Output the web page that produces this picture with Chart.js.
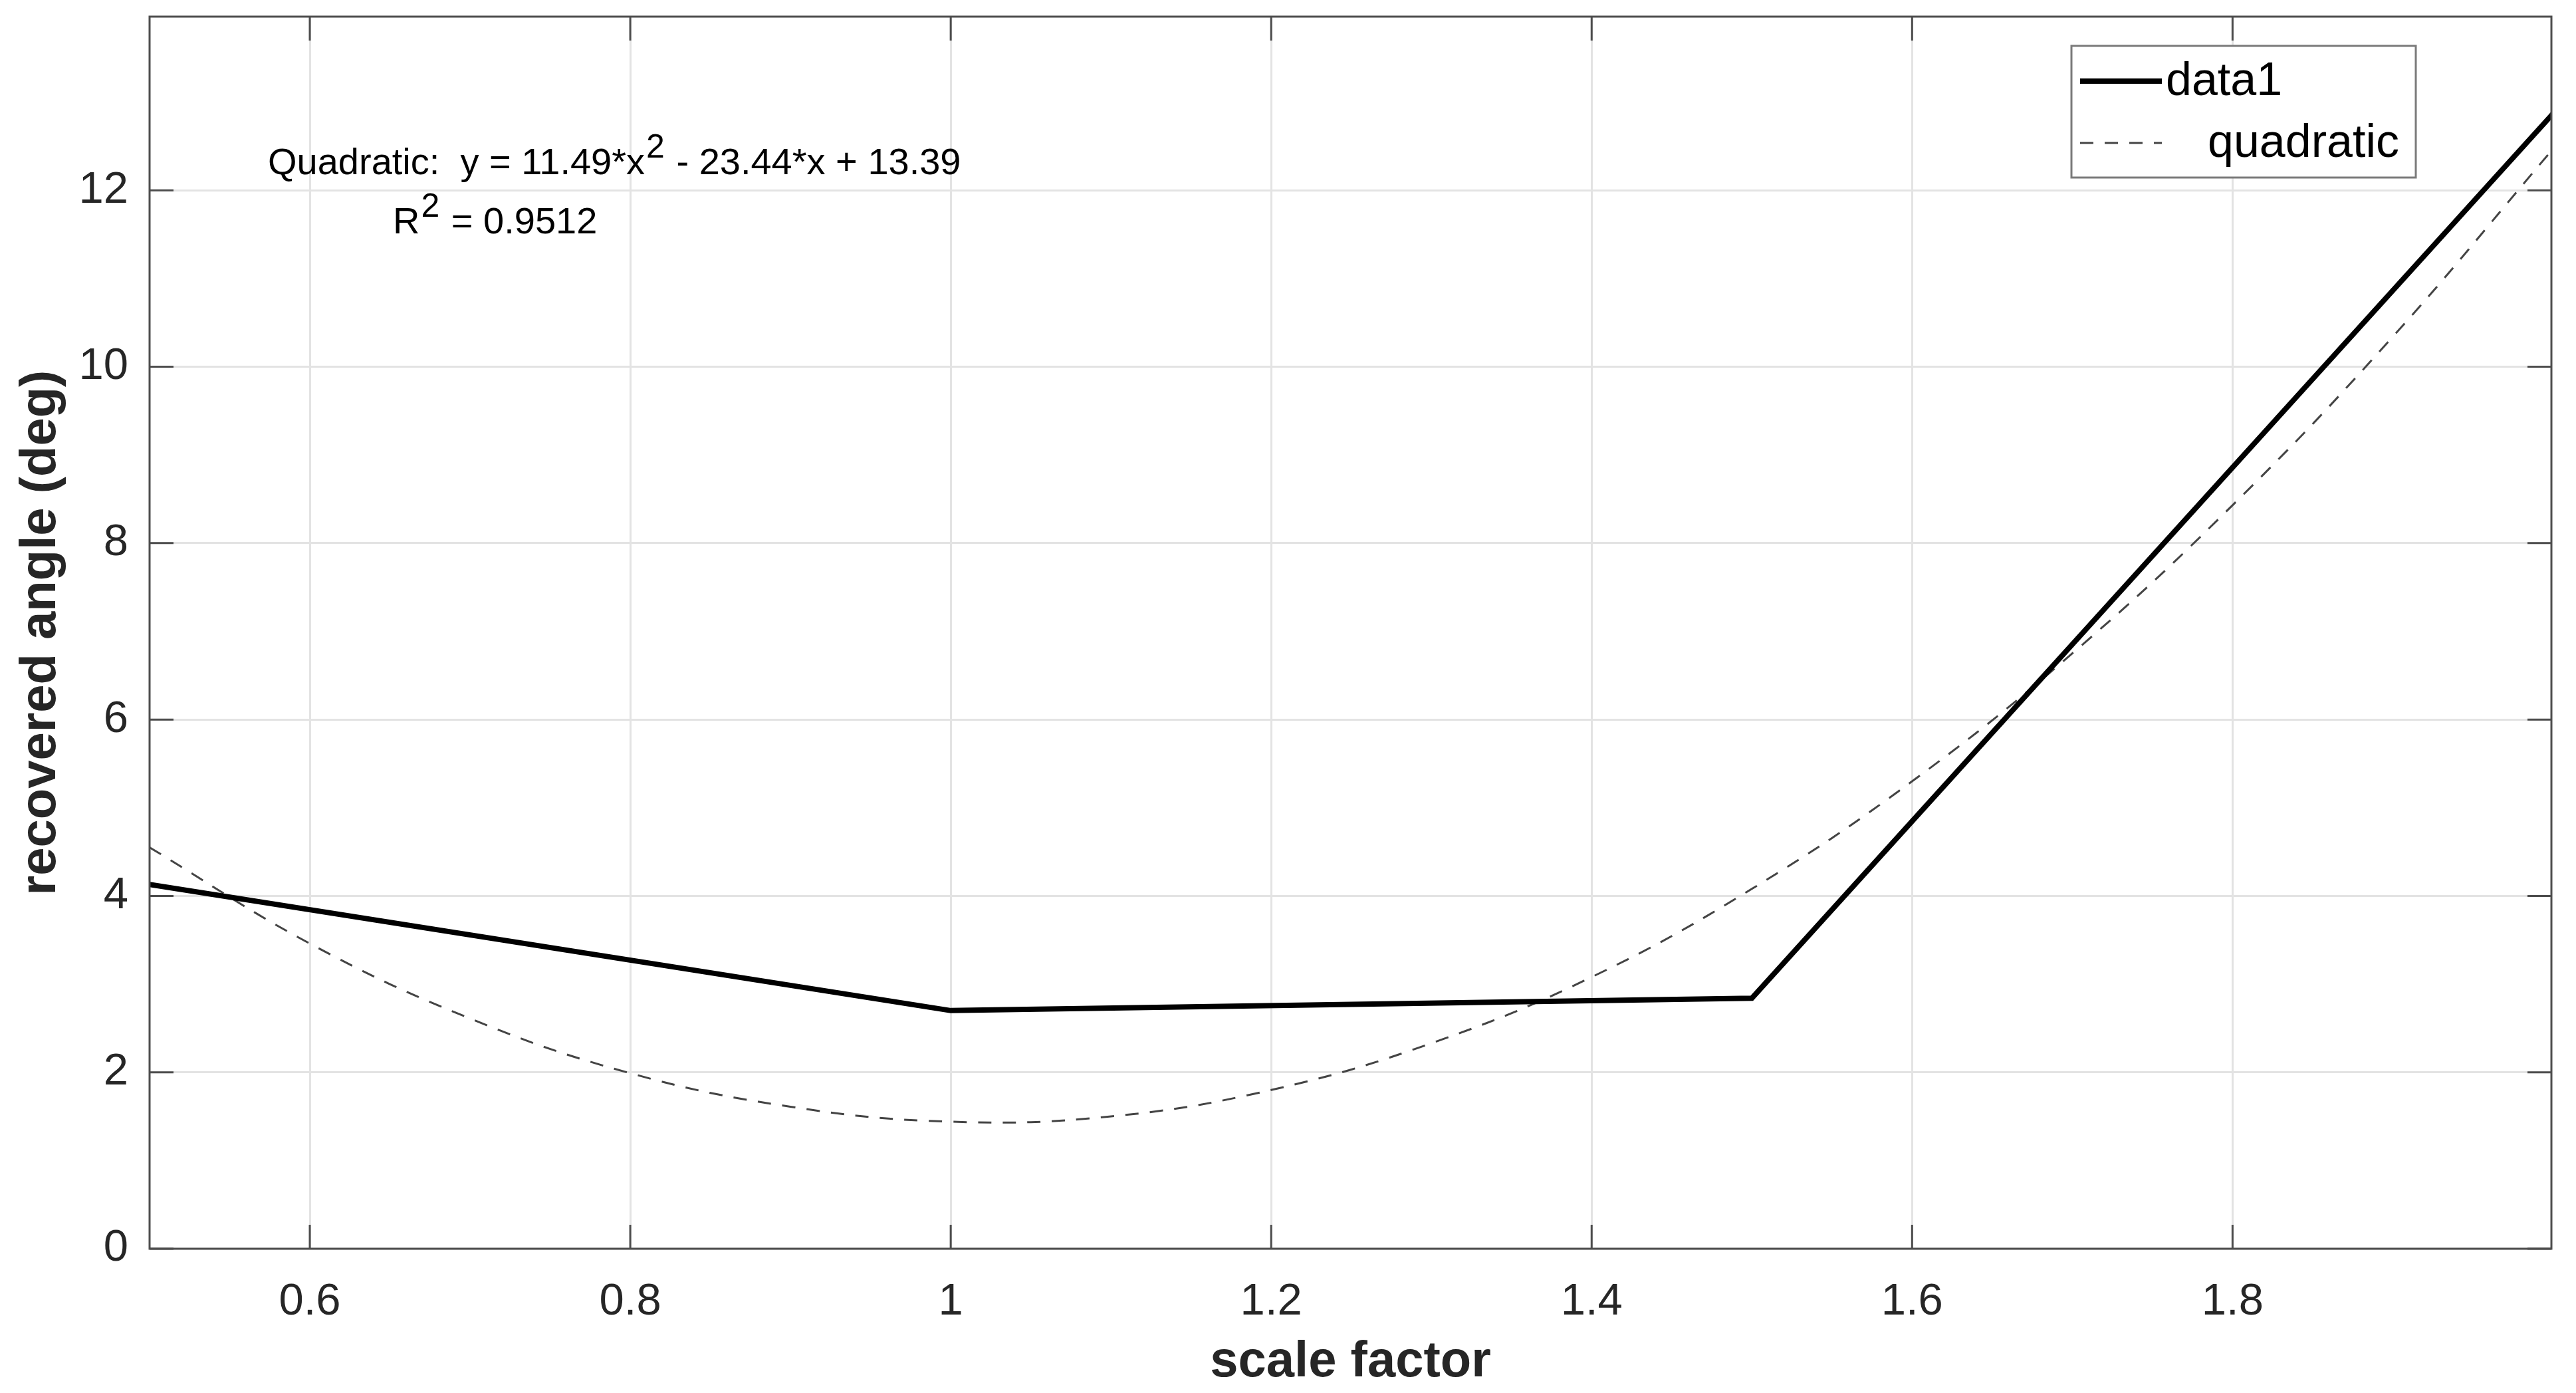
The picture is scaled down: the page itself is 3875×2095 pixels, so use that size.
<!DOCTYPE html>
<html>
<head>
<meta charset="utf-8">
<script src="https://cdn.jsdelivr.net/npm/chart.js@4.4.1/dist/chart.umd.min.js"></script>
<style>
  html, body { margin: 0; padding: 0; background: #fff; }
</style>
</head>
<body>
<canvas id="grafico" width="3875" height="2095"></canvas>
<script>
// measured points (data1)
const scaleFactor = [0.5, 1, 1.5, 2]
const recoveredAngle = [4.13, 2.70, 2.84, 12.87]

// quadratic fit curve
const fitX = [0.5, 0.6, 0.7, 0.8, 0.9, 1.0, 1.1, 1.2, 1.3, 1.4, 1.5, 1.6, 1.7, 1.8, 1.9, 2.0]
const fitY = [4.55, 3.46, 2.61, 1.99, 1.61, 1.44, 1.50, 1.80, 2.33, 3.08, 4.08, 5.30, 6.75, 8.43, 10.34, 12.47]

const xTicks = [0.6, 0.8, 1, 1.2, 1.4, 1.6, 1.8]
const yTicks = [0, 2, 4, 6, 8, 10, 12]
const xRange = [0.5, 1.999]
const yRange = [0, 13.97]

const seriesNames = ['data1', 'quadratic']
const fitText = ['Quadratic:  y = 11.49*x', '2', ' - 23.44*x + 13.39']
const r2Text = ['R', '2', ' = 0.9512']

const FONT = '"Liberation Sans", Arial, sans-serif'
const boxColor = '#4d4d4d'
const dashPattern = [20, 17]

const toPoints = (xs, ys) => xs.map((x, i) => ({ x: x, y: ys[i] }))

// box, inward ticks, text annotation and legend, MATLAB style
const matlabBits = {
  id: 'matlabBits',
  afterDraw(chart) {
    const ctx = chart.ctx
    const a = chart.chartArea
    const sx = chart.scales.x
    const sy = chart.scales.y
    ctx.save()
    ctx.strokeStyle = boxColor
    ctx.lineWidth = 3
    ctx.strokeRect(a.left, a.top, a.right - a.left, a.bottom - a.top)
    const tl = 36
    ctx.beginPath()
    xTicks.forEach(v => {
      const px = sx.getPixelForValue(v)
      ctx.moveTo(px, a.bottom); ctx.lineTo(px, a.bottom - tl)
      ctx.moveTo(px, a.top); ctx.lineTo(px, a.top + tl)
    })
    yTicks.forEach(v => {
      const py = sy.getPixelForValue(v)
      ctx.moveTo(a.left, py); ctx.lineTo(a.left + tl, py)
      ctx.moveTo(a.right, py); ctx.lineTo(a.right - tl, py)
    })
    ctx.stroke()

    // fit annotation
    ctx.fillStyle = '#000'
    ctx.textBaseline = 'alphabetic'
    ctx.textAlign = 'left'
    const drawSup = (parts, x, y) => {
      ctx.font = '56px ' + FONT
      ctx.fillText(parts[0], x, y)
      x += ctx.measureText(parts[0]).width
      ctx.font = '50px ' + FONT
      ctx.fillText(parts[1], x + 2, y - 25)
      x += ctx.measureText(parts[1]).width + 4
      ctx.font = '56px ' + FONT
      ctx.fillText(parts[2], x, y)
    }
    drawSup(fitText, 403, 262)
    drawSup(r2Text, 591, 351)

    // legend
    const lx = 3116, ly = 69, lw = 518, lh = 198
    ctx.fillStyle = '#fff'
    ctx.fillRect(lx, ly, lw, lh)
    ctx.strokeStyle = '#7a7a7a'
    ctx.lineWidth = 3
    ctx.strokeRect(lx, ly, lw, lh)
    ctx.lineCap = 'butt'
    ctx.strokeStyle = '#000'
    ctx.lineWidth = 8
    ctx.beginPath(); ctx.moveTo(3129, 122); ctx.lineTo(3252, 122); ctx.stroke()
    ctx.strokeStyle = '#444'
    ctx.lineWidth = 3
    ctx.setLineDash(dashPattern)
    ctx.beginPath(); ctx.moveTo(3129, 215); ctx.lineTo(3252, 215); ctx.stroke()
    ctx.setLineDash([])
    ctx.fillStyle = '#000'
    ctx.font = '70px ' + FONT
    ctx.textBaseline = 'middle'
    ctx.fillText(seriesNames[0], 3258, 124)
    ctx.fillText(seriesNames[1], 3321, 217)
    ctx.restore()
  }
}

const config = {
  type: 'scatter',
  data: {
    datasets: [
      {
        label: seriesNames[0],
        data: toPoints(scaleFactor, recoveredAngle),
        showLine: true,
        borderColor: '#000',
        borderWidth: 8,
        pointRadius: 0,
        tension: 0,
        order: 1
      },
      {
        label: seriesNames[1],
        data: toPoints(fitX, fitY),
        showLine: true,
        borderColor: '#444',
        borderWidth: 3,
        borderDash: dashPattern,
        pointRadius: 0,
        tension: 0.4,
        order: 2
      }
    ]
  },
  options: {
    responsive: false,
    animation: false,
    devicePixelRatio: 1,
    layout: { padding: { top: 25, right: 37, left: 0, bottom: 0 } },
    plugins: {
      legend: { display: false },
      tooltip: { enabled: false }
    },
    scales: {
      x: {
        type: 'linear',
        min: xRange[0],
        max: xRange[1],
        afterBuildTicks: (scale) => { scale.ticks = xTicks.map(v => ({ value: v })) },
        afterFit: (scale) => {
          scale.height = 217
          scale.paddingLeft = 0
          scale.paddingRight = 0
        },
        grid: { color: '#e3e3e3', lineWidth: 3, drawTicks: false },
        border: { display: false },
        ticks: {
          padding: 40,
          color: '#262626',
          font: { family: FONT, size: 67 },
          maxRotation: 0,
          callback: (v) => String(Math.round(v * 10) / 10)
        },
        title: {
          display: true,
          text: 'scale factor',
          color: '#262626',
          font: { family: FONT, size: 76, weight: 'bold' },
          padding: { top: 0, bottom: 0 }
        }
      },
      y: {
        type: 'linear',
        min: yRange[0],
        max: yRange[1],
        afterBuildTicks: (scale) => { scale.ticks = yTicks.map(v => ({ value: v })) },
        afterFit: (scale) => {
          scale.width = 225
          scale.paddingTop = 0
          scale.paddingBottom = 0
        },
        grid: { color: '#e3e3e3', lineWidth: 3, drawTicks: false },
        border: { display: false },
        ticks: {
          padding: 32,
          color: '#262626',
          font: { family: FONT, size: 67 },
          callback: (v) => String(v)
        },
        title: {
          display: true,
          text: 'recovered angle (deg)',
          color: '#262626',
          font: { family: FONT, size: 76, weight: 'bold' },
          padding: { top: 16, bottom: 0 }
        }
      }
    }
  },
  plugins: [matlabBits]
}

const miGrafico = new Chart(document.getElementById('grafico'), config)
</script>
</body>
</html>
